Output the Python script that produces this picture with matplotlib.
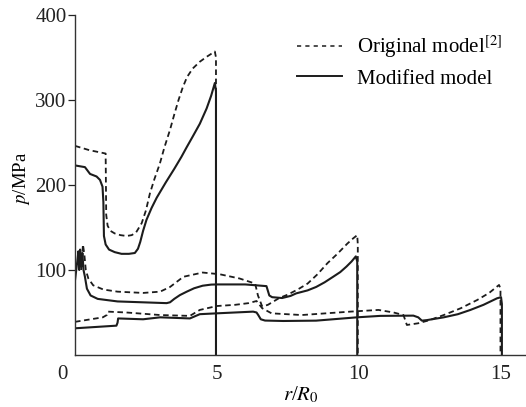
import matplotlib
matplotlib.use('Agg')
import matplotlib.pyplot as plt
from matplotlib.lines import Line2D
from matplotlib.transforms import ScaledTranslation

plt.rcParams['font.family'] = ['Liberation Serif', 'DejaVu Serif']
plt.rcParams['mathtext.fontset'] = 'stix'
plt.rcParams['lines.scale_dashes'] = False

# r/R0 = 5 (dashed: original model, solid: modified model)
xa_o = [0, 0.5, 1.08, 1.1, 1.15, 1.25, 1.4, 1.6, 1.82, 2.0, 2.15, 2.35, 2.5, 2.64, 2.8, 2.99,
        3.15, 3.35, 3.5, 3.65, 3.8, 3.95, 4.15, 4.4, 4.65, 4.93, 4.97, 4.97]
ya_o = [246, 241, 237, 165, 152, 146, 143, 141, 140, 141, 144, 155, 170, 190, 207, 225,
        244, 265, 283, 300, 315, 327, 337, 345, 351, 357, 350, 0]
xa_m = [0, 0.35, 0.53, 0.76, 0.88, 0.97, 1.0, 1.02, 1.08, 1.2, 1.4, 1.64, 1.9, 2.11, 2.22,
        2.3, 2.4, 2.52, 2.7, 2.88, 3.2, 3.5, 3.75, 3.93, 4.15, 4.4, 4.64, 4.8, 4.93, 4.97, 4.97]
ya_m = [223, 221, 213, 210, 206, 198, 180, 140, 130, 124, 121, 119, 119, 120, 125,
        133, 146, 159, 173, 185, 203, 219, 233, 244, 257, 272, 290, 305, 320, 310, 0]

# r/R0 = 10
xb_o = [0.22, 0.28, 0.33, 0.38, 0.47, 0.64, 1.0, 1.5, 2.4, 3.0, 3.35, 3.82, 4.5, 5.1, 5.8,
        6.35, 6.45, 6.6, 6.8, 7.0, 7.2, 7.5, 7.85, 8.2, 8.55, 8.9, 9.25, 9.6, 9.8, 9.95,
        9.97, 9.97]
yb_o = [100, 130, 118, 100, 90, 82, 77, 74.5, 73, 74.5, 80, 92, 97, 95, 90,
        84, 70, 57, 59, 63, 67, 71, 77, 84, 95, 108, 119, 131, 137, 141,
        130, 0]
xb_m = [0, 0.08, 0.12, 0.15, 0.18, 0.22, 0.26, 0.3, 0.35, 0.42, 0.55, 0.8, 1.5, 3.23, 3.35,
        3.5, 3.7, 3.94, 4.2, 4.5, 4.8, 5.0, 6.0, 6.75, 6.85, 6.95, 7.3, 7.6, 7.8, 8.2,
        8.5, 8.8, 9.1, 9.35, 9.57, 9.75, 9.9, 9.95, 9.95]
yb_m = [88, 110, 122, 100, 124, 104, 120, 100, 92, 78, 70, 66, 63, 61, 62,
        66, 70.5, 74.5, 78.5, 81.5, 82.8, 83, 83, 81, 70, 68, 67, 69.5, 72.5, 76,
        80, 85.5, 92, 97.5, 104, 110, 116, 110, 0]

# r/R0 = 15
xc_o = [0, 0.98, 1.12, 1.16, 1.81, 3.0, 4.05, 4.4, 5.0, 5.64, 6.12, 6.4, 6.6, 6.93, 7.99,
        9.7, 10.7, 11.23, 11.58, 11.7, 12.1, 12.5, 13.0, 13.6, 14.18, 14.6, 14.95,
        15.0, 15.0]
yc_o = [39, 44.3, 47, 51, 50, 47, 46, 53, 57.6, 59, 61, 63.5, 55, 49, 47,
        51, 53, 50, 47, 35.3, 37.3, 41, 47, 55, 64.7, 73, 82.4,
        78, 0]
xc_m = [0, 1.46, 1.5, 1.52, 2.4, 3.0, 4.05, 4.4, 5.0, 6.28, 6.4, 6.46, 6.55, 6.7, 7.34, 8.5,
        9.94, 10.76, 11.93, 12.1, 12.23, 12.4, 13.0, 13.5, 13.94, 14.4, 14.88,
        15.02, 15.05, 15.05]
yc_m = [31.4, 34.5, 38, 43, 42, 44.3, 43, 48, 49, 51, 50, 47, 42, 40.5, 40, 40.4,
        44.3, 46, 46.3, 44.3, 40.4, 41, 44.3, 48, 53, 59, 66.7,
        68, 60, 0]

xticks = [0, 5, 10, 15]
yticks = [100, 200, 300, 400]

col = '#1c1c1c'
dash = (4.0, 2.6)

fig = plt.figure(figsize=(5.26, 4.07), dpi=100)
ax = fig.add_axes([0.1426, 0.1278, 0.8574, 0.8354])

for xs, ys in [(xa_o, ya_o), (xb_o, yb_o), (xc_o, yc_o)]:
    ax.plot(xs, ys, color=col, lw=1.3, linestyle='--', dashes=dash)
for xs, ys in [(xa_m, ya_m), (xb_m, yb_m), (xc_m, yc_m)]:
    ax.plot(xs, ys, color=col, lw=1.5)

ax.set_xlim(0, 15.9)
ax.set_ylim(0, 400)
ax.set_xticks(xticks)
ax.set_yticks(yticks)
ax.spines['top'].set_visible(False)
ax.spines['right'].set_visible(False)
for s in ['left', 'bottom']:
    ax.spines[s].set_linewidth(1.0)
    ax.spines[s].set_color('#333333')
ax.tick_params(axis='x', length=0, pad=7, labelsize=15, colors='#222222')
ax.tick_params(axis='y', length=5, width=0.9, pad=1, labelsize=15, colors='#222222')

# the origin label sits a little left of the corner
lab0 = ax.get_xticklabels()[0]
lab0.set_transform(lab0.get_transform() + ScaledTranslation(-0.13, 0, fig.dpi_scale_trans))

ax.set_xlabel(r'$r$/$R_{\mathrm{0}}$', fontsize=15, labelpad=1)
ax.set_ylabel(r'$p$/MPa', fontsize=13.5)
ax.yaxis.set_label_coords(-0.095, 0.52)

handles = [Line2D([], [], color=col, lw=1.1, linestyle='--', dashes=(3.0, 3.0)),
           Line2D([], [], color=col, lw=1.4)]
ax.legend(handles, [r'Original model$^{[2]}$', 'Modified model'],
          loc='upper left', bbox_to_anchor=(297 / 526, 1 - 34 / 407),
          bbox_transform=fig.transFigure, frameon=False, fontsize=15,
          handlelength=2.16, handletextpad=0.72, labelspacing=0.42,
          borderpad=0, borderaxespad=0)

fig.savefig('out.png', dpi=100)
